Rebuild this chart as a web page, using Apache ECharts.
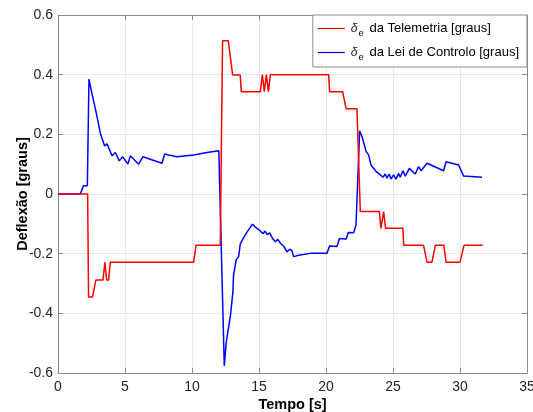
<!DOCTYPE html>
<html>
<head>
<meta charset="utf-8">
<script src="https://cdn.jsdelivr.net/npm/echarts@6/dist/echarts.min.js"></script>
<style>html,body{margin:0;padding:0;background:#fff;}#c{width:533px;height:412px;}</style>
</head>
<body>
<div id="c"></div>
<script>
// Telemetry deflection (red)
const tRed = [0, 2.21, 2.28, 2.58, 2.83, 3.36, 3.5, 3.63, 3.78, 3.9, 10.12, 10.3, 12.11, 12.28, 12.41, 12.71, 13.03, 13.6, 13.68, 15.1, 15.25, 15.4, 15.55, 15.7, 15.85, 20.2, 20.27, 21.24, 21.5, 22.31, 22.56, 23.98, 24.1, 24.3, 24.45, 25.74, 25.8, 27.28, 27.54, 27.9, 28.16, 28.8, 28.96, 30.0, 30.3, 31.69];
const vRed = [0, 0, -0.345, -0.345, -0.288, -0.288, -0.229, -0.288, -0.288, -0.229, -0.229, -0.172, -0.172, 0.514, 0.514, 0.514, 0.399, 0.399, 0.343, 0.343, 0.4, 0.343, 0.4, 0.343, 0.4, 0.4, 0.343, 0.343, 0.286, 0.286, -0.059, -0.059, -0.115, -0.059, -0.115, -0.115, -0.172, -0.172, -0.229, -0.229, -0.172, -0.172, -0.229, -0.229, -0.172, -0.172];
// Control law deflection (blue)
const tBlue = [0, 1.66, 1.91, 2.19, 2.31, 2.53, 2.91, 3.16, 3.48, 3.66, 4.03, 4.28, 4.57, 4.82, 5.22, 5.4, 6.02, 6.34, 7.76, 7.96, 8.26, 8.88, 10.12, 11.12, 12.0, 12.14, 12.41, 12.55, 12.65, 12.86, 13.05, 13.1, 13.2, 13.3, 13.48, 13.6, 13.73, 13.85, 13.98, 14.1, 14.23, 14.35, 14.52, 14.7, 14.85, 15.0, 15.1, 15.3, 15.45, 15.6, 15.8, 16.0, 16.22, 16.4, 16.6, 16.85, 17.09, 17.3, 17.46, 17.58, 17.96, 18.83, 20.07, 20.27, 20.82, 21.0, 21.51, 21.66, 22.06, 22.24, 22.36, 22.51, 22.69, 22.8, 23.0, 23.18, 23.36, 23.45, 23.55, 23.65, 23.75, 23.93, 24.05, 24.25, 24.43, 24.55, 24.72, 24.85, 25.04, 25.22, 25.42, 25.54, 25.74, 25.92, 26.22, 26.66, 26.91, 27.09, 27.54, 28.78, 28.96, 29.9, 30.27, 31.64];
const vBlue = [0, 0, 0.028, 0.028, 0.385, 0.338, 0.26, 0.204, 0.161, 0.168, 0.128, 0.139, 0.111, 0.125, 0.1, 0.128, 0.1, 0.125, 0.103, 0.134, 0.131, 0.125, 0.131, 0.139, 0.145, 0.145, -0.576, -0.5, -0.47, -0.41, -0.33, -0.272, -0.27, -0.22, -0.21, -0.168, -0.163, -0.146, -0.143, -0.128, -0.126, -0.112, -0.101, -0.11, -0.115, -0.12, -0.126, -0.133, -0.124, -0.136, -0.13, -0.148, -0.16, -0.152, -0.165, -0.175, -0.194, -0.185, -0.19, -0.21, -0.205, -0.199, -0.199, -0.174, -0.176, -0.149, -0.151, -0.129, -0.13, -0.104, -0.104, 0.212, 0.192, 0.19, 0.142, 0.131, 0.097, 0.102, 0.086, 0.09, 0.075, 0.069, 0.074, 0.056, 0.067, 0.053, 0.067, 0.05, 0.064, 0.05, 0.069, 0.056, 0.078, 0.06, 0.086, 0.067, 0.092, 0.078, 0.103, 0.078, 0.108, 0.097, 0.06, 0.056];
// Axis ticks
const xTicks = {min: 0, max: 35, step: 5};
const yTicks = {min: -0.6, max: 0.6, step: 0.2};
const seriesNames = ['Telemetria', 'Lei de Controlo'];

const chart = echarts.init(document.getElementById('c'), null, {renderer: 'canvas'});
const zip = (a, b) => a.map((t, i) => [t, b[i]]);
const axisCol = '#8a8a8a';
const txtCol = '#262626';
const fontFam = '"Liberation Sans", Arial, Helvetica, sans-serif';

const baseX = {
  type: 'value', min: xTicks.min, max: xTicks.max, interval: xTicks.step,
  axisLine: {show: true, onZero: false, lineStyle: {color: axisCol, width: 1}},
  axisTick: {show: true, inside: true, length: 5, lineStyle: {color: axisCol}},
};
const baseY = {
  type: 'value', min: yTicks.min, max: yTicks.max, interval: yTicks.step,
  axisLine: {show: true, onZero: false, lineStyle: {color: axisCol, width: 1}},
  axisTick: {show: true, inside: true, length: 5, lineStyle: {color: axisCol}},
};

chart.setOption({
  animation: false,
  backgroundColor: '#fff',
  textStyle: {fontFamily: fontFam},
  grid: {left: 58, right: 6, top: 15, bottom: 39, containLabel: false, outerBoundsMode: 'none'},
  legend: {
    orient: 'vertical', right: 6, top: 15,
    backgroundColor: '#fff', borderColor: '#8a8a8a', borderWidth: 1, borderRadius: 0,
    padding: [4, 8, 5, 5], itemGap: 5, itemWidth: 27, itemHeight: 1.2,
    icon: 'rect',
    data: seriesNames,
    formatter: n => '{d|δ}{e|e} da ' + n + ' [graus]',
    textStyle: {
      fontFamily: fontFam, fontSize: 13, color: '#000', lineHeight: 17,
      rich: {
        d: {fontStyle: 'italic', fontFamily: fontFam, fontSize: 12, color: '#222', lineHeight: 17, padding: [0, 0, 0, 1]},
        e: {fontSize: 9.5, color: '#000', lineHeight: 17, padding: [9, 2, 0, 1]}
      }
    }
  },
  xAxis: [
    Object.assign({}, baseX, {
      position: 'bottom',
      name: 'Tempo [s]', nameLocation: 'middle', nameGap: 24, nameMoveOverlap: false,
      nameTextStyle: {fontWeight: 'bold', fontSize: 14.5, color: '#000', fontFamily: fontFam},
      axisLabel: {fontSize: 14, color: txtCol, margin: 7, fontFamily: fontFam},
      splitLine: {show: true, lineStyle: {color: '#e8e8e8', width: 1}}
    }),
    Object.assign({}, baseX, {position: 'top', axisLabel: {show: false}, splitLine: {show: false}})
  ],
  yAxis: [
    Object.assign({}, baseY, {
      position: 'left',
      name: 'Deflexão [graus]', nameLocation: 'middle', nameGap: 28, nameRotate: 90, nameMoveOverlap: false,
      nameTextStyle: {fontWeight: 'bold', fontSize: 14.5, color: '#000', fontFamily: fontFam},
      axisLabel: {fontSize: 14, color: txtCol, margin: 5, fontFamily: fontFam,
        formatter: v => String(Number(v.toFixed(1)))},
      splitLine: {show: true, lineStyle: {color: '#e8e8e8', width: 1}}
    }),
    Object.assign({}, baseY, {position: 'right', axisLabel: {show: false}, splitLine: {show: false}})
  ],
  series: [
    {name: seriesNames[0], type: 'line', data: zip(tRed, vRed), symbol: 'none',
     lineStyle: {color: '#ff0000', width: 1.5}, itemStyle: {color: '#ff0000'}, z: 3},
    {name: seriesNames[1], type: 'line', data: zip(tBlue, vBlue), symbol: 'none',
     lineStyle: {color: '#0000ff', width: 1.5}, itemStyle: {color: '#0000ff'}, z: 2}
  ]
});
</script>
</body>
</html>
